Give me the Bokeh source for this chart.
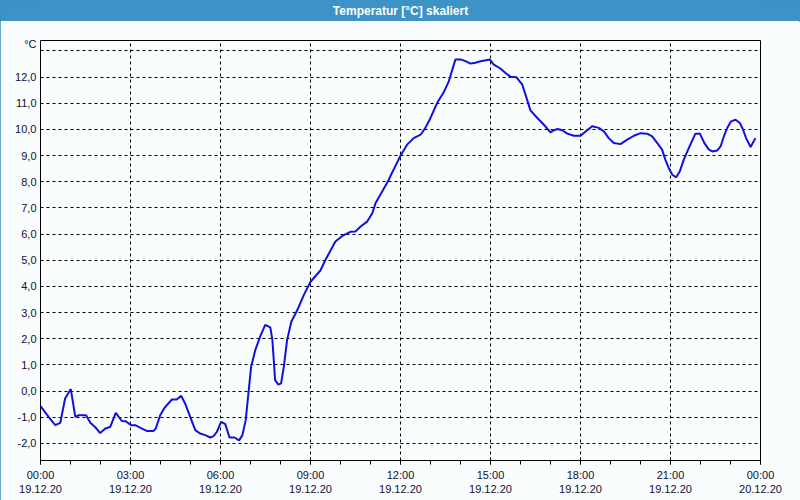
from bokeh.plotting import figure
from bokeh.layouts import column
from bokeh.models import Range1d, FixedTicker, Label
from bokeh.embed import file_html
from bokeh.resources import INLINE

# ---- data (hours since 19.12.20 00:00, temperature in °C) ----
hours = [0.00, 0.27, 0.49, 0.66, 0.82, 1.01, 1.16, 1.27, 1.52, 1.66, 1.82, 1.99,
         2.16, 2.32, 2.51, 2.71, 2.84, 3.02, 3.16, 3.38, 3.54, 3.77, 3.84, 3.99,
         4.10, 4.16, 4.38, 4.54, 4.69, 4.82, 4.99, 5.16, 5.32, 5.49, 5.66, 5.77,
         5.88, 6.02, 6.16, 6.30, 6.47, 6.62, 6.73, 6.84, 6.93, 7.02, 7.16, 7.32,
         7.49, 7.66, 7.73, 7.82, 7.93, 8.02, 8.11, 8.22, 8.36, 8.56, 8.78, 9.00,
         9.33, 9.50, 9.83, 10.06, 10.33, 10.50, 10.67, 10.89, 11.06, 11.17, 11.39,
         11.61, 11.67, 12.00, 12.22, 12.44, 12.67, 12.83, 13.00, 13.22, 13.44,
         13.61, 13.83, 14.02, 14.17, 14.33, 14.50, 14.67, 14.98, 15.11, 15.33,
         15.50, 15.67, 15.86, 16.06, 16.22, 16.33, 16.56, 16.78, 17.00, 17.11,
         17.24, 17.39, 17.56, 17.78, 18.00, 18.22, 18.39, 18.61, 18.78, 18.94,
         19.11, 19.33, 19.56, 19.78, 20.00, 20.22, 20.39, 20.56, 20.72, 20.83,
         20.94, 21.06, 21.19, 21.31, 21.44, 21.61, 21.83, 21.98, 22.13, 22.28,
         22.39, 22.56, 22.67, 22.78, 22.89, 23.02, 23.17, 23.31, 23.42, 23.52,
         23.67, 23.83]
temps = [-0.57, -0.98, -1.30, -1.21, -0.28, 0.08, -0.98, -0.92, -0.92, -1.21, -1.37, -1.60,
         -1.43, -1.37, -0.83, -1.14, -1.15, -1.30, -1.30, -1.43, -1.52, -1.52, -1.43, -0.92,
         -0.70, -0.60, -0.32, -0.32, -0.18, -0.47, -0.98, -1.49, -1.62, -1.68, -1.77, -1.72,
         -1.56, -1.17, -1.26, -1.77, -1.77, -1.88, -1.68, -1.11, -0.09, 0.93, 1.57, 2.08,
         2.53, 2.44, 1.95, 0.42, 0.25, 0.30, 0.93, 1.95, 2.65, 3.10, 3.68, 4.18,
         4.61, 5.02, 5.72, 5.93, 6.09, 6.10, 6.29, 6.48, 6.80, 7.19, 7.63,
         8.08, 8.23, 9.00, 9.42, 9.67, 9.80, 10.06, 10.44, 11.01, 11.42,
         11.84, 12.67, 12.67, 12.61, 12.52, 12.55, 12.61, 12.67, 12.48, 12.33,
         12.16, 12.01, 12.00, 11.71, 11.14, 10.73, 10.44, 10.18, 9.89, 9.97,
         10.02, 9.97, 9.84, 9.76, 9.76, 9.97, 10.12, 10.06, 9.93, 9.67,
         9.48, 9.44, 9.61, 9.76, 9.86, 9.84, 9.74, 9.48, 9.23, 8.84,
         8.53, 8.27, 8.17, 8.40, 8.84, 9.29, 9.84, 9.84, 9.48, 9.23,
         9.16, 9.20, 9.35, 9.74, 10.06, 10.31, 10.37, 10.25, 9.99, 9.67,
         9.33, 9.67]

x_tick_hours = [0, 3, 6, 9, 12, 15, 18, 21, 24]
x_tick_labels = ["00:00\n19.12.20", "03:00\n19.12.20", "06:00\n19.12.20",
                 "09:00\n19.12.20", "12:00\n19.12.20", "15:00\n19.12.20",
                 "18:00\n19.12.20", "21:00\n19.12.20", "00:00\n20.12.20"]
y_ticks = [-2, -1, 0, 1, 2, 3, 4, 5, 6, 7, 8, 9, 10, 11, 12, 13]
y_tick_labels = ["-2,0", "-1,0", "0,0", "1,0", "2,0", "3,0", "4,0", "5,0", "6,0",
                 "7,0", "8,0", "9,0", "10,0", "11,0", "12,0", "°C\n "]
title_text = "Temperatur [°C] skaliert"

BAR = "#3d92c6"
BG = "#fafdfd"
TXT = "#101030"
FONT = "Liberation Sans"

# ---- title bar ----
tb = figure(width=800, height=21, x_range=(0, 1), y_range=(0, 1),
            toolbar_location=None, output_backend="svg",
            x_axis_location=None, y_axis_location=None,
            min_border=0)
tb.background_fill_color = BAR
tb.border_fill_color = BAR
tb.outline_line_color = BAR
tb.outline_line_width = 3
tb.xgrid.visible = False
tb.ygrid.visible = False
tb.add_layout(Label(x=0.5, y=0.5, text=title_text, text_align="center",
                    text_baseline="middle", text_color="white",
                    text_font=FONT, text_font_size="12px", text_font_style="bold"))

# ---- main chart ----
p = figure(width=800, height=479, toolbar_location=None, output_backend="svg",
           x_range=Range1d(0, 24), y_range=Range1d(-2.65, 13.40),
           min_border_left=40, min_border_right=40,
           min_border_top=19, min_border_bottom=40)
p.background_fill_color = BG
p.border_fill_color = BG
p.outline_line_color = "black"
p.outline_line_width = 1

p.line(hours, temps, line_color="#1010e0", line_width=2)

p.xaxis.ticker = FixedTicker(ticks=x_tick_hours, minor_ticks=list(range(25)))
p.xaxis.major_label_overrides = dict(zip(x_tick_hours, x_tick_labels))
p.xaxis.axis_line_color = None
p.xaxis.major_tick_in = 0
p.xaxis.major_tick_out = 4
p.xaxis.minor_tick_in = 0
p.xaxis.minor_tick_out = 4
p.xaxis.major_tick_line_color = "black"
p.xaxis.minor_tick_line_color = "black"
p.xaxis.major_label_standoff = 4
p.xaxis.major_label_text_font = FONT
p.xaxis.major_label_text_font_size = "11px"
p.xaxis.major_label_text_color = TXT

p.yaxis.ticker = FixedTicker(ticks=y_ticks, minor_ticks=[])
p.yaxis.major_label_overrides = dict(zip(y_ticks, y_tick_labels))
p.yaxis.axis_line_color = None
p.yaxis.major_tick_in = 0
p.yaxis.major_tick_out = 0
p.yaxis.minor_tick_out = 0
p.yaxis.major_label_standoff = 4
p.yaxis.major_label_text_font = FONT
p.yaxis.major_label_text_font_size = "11px"
p.yaxis.major_label_text_color = TXT

p.xgrid.ticker = FixedTicker(ticks=x_tick_hours[1:-1])
p.xgrid.grid_line_color = "black"
p.xgrid.grid_line_dash = "3 3"
p.ygrid.ticker = FixedTicker(ticks=y_ticks)
p.ygrid.grid_line_color = "black"
p.ygrid.grid_line_dash = "3 3"

layout = column(tb, p, spacing=0,
                styles={"outline": "1px solid " + BAR, "outline-offset": "-1px"})
open("out.html", "w").write(file_html(layout, INLINE))
